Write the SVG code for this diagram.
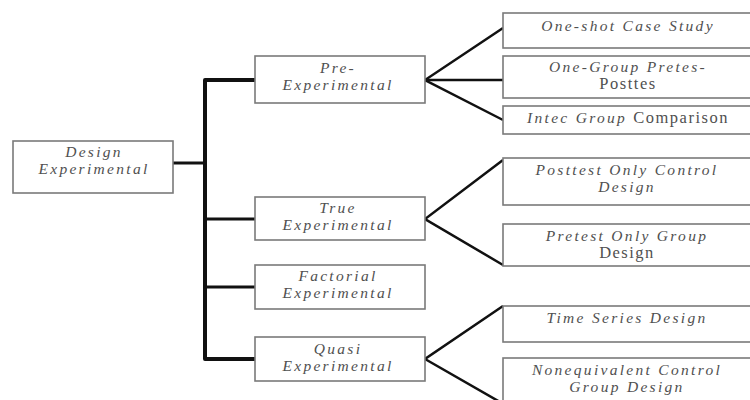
<svg xmlns="http://www.w3.org/2000/svg" width="750" height="400" viewBox="0 0 750 400">
<style>
.box{fill:#fff;stroke:#7a7a7a;stroke-width:1.6}
.t{font-family:"Liberation Serif",serif;font-style:italic;font-size:15.5px;fill:#505050;text-anchor:middle;letter-spacing:2.3px}
.n{font-style:normal;font-size:16.5px;letter-spacing:1.5px}
.c{stroke:#111;fill:none;stroke-linecap:butt}
</style>
<rect width="750" height="400" fill="#fff"/>
<g id="connectors">
<polyline class="c" points="255,80 205,80 205,359 255,359" stroke-width="4" stroke-linejoin="round"/>
<line class="c" x1="173" y1="163" x2="205" y2="163" stroke-width="3"/>
<line class="c" x1="205" y1="219" x2="255" y2="219" stroke-width="3"/>
<line class="c" x1="205" y1="287" x2="255" y2="287" stroke-width="3"/>
<polyline class="c" points="503,28 425,80 503,120" stroke-width="2.5"/>
<line class="c" x1="425" y1="80" x2="503" y2="80" stroke-width="2.5"/>
<polyline class="c" points="503,160 425,219 503,265" stroke-width="2.5"/>
<polyline class="c" points="503,306 425,359 500,402" stroke-width="2.5"/>
</g>
<g id="design"><rect class="box" x="13" y="141" width="160" height="52"/><text class="t" x="94" y="157">Design</text><text class="t" x="94" y="174">Experimental</text></g>
<g id="pre"><rect class="box" x="255" y="56" width="170" height="47"/><text class="t" x="338" y="73">Pre-</text><text class="t" x="338" y="90">Experimental</text></g>
<g id="true"><rect class="box" x="255" y="197" width="170" height="43"/><text class="t" x="338" y="213">True</text><text class="t" x="338" y="230">Experimental</text></g>
<g id="factorial"><rect class="box" x="255" y="265" width="170" height="44"/><text class="t" x="338" y="281">Factorial</text><text class="t" x="338" y="298">Experimental</text></g>
<g id="quasi"><rect class="box" x="255" y="337" width="170" height="44"/><text class="t" x="338" y="354">Quasi</text><text class="t" x="338" y="371">Experimental</text></g>
<g id="oneshot"><rect class="box" x="503" y="13" width="252" height="35"/><text class="t" x="628" y="31">One-shot Case Study</text></g>
<g id="onegroup"><rect class="box" x="503" y="56" width="252" height="42"/><text class="t" x="628" y="72">One-Group Pretes-</text><text class="t n" x="628" y="89">Posttes</text></g>
<g id="intec"><rect class="box" x="503" y="106" width="252" height="28"/><text class="t" x="628" y="123">Intec Group <tspan class="n">Comparison</tspan></text></g>
<g id="posttest"><rect class="box" x="503" y="158" width="252" height="47"/><text class="t" x="627" y="175">Posttest Only Control</text><text class="t" x="627" y="192">Design</text></g>
<g id="pretest"><rect class="box" x="503" y="224" width="252" height="42"/><text class="t" x="627" y="241">Pretest Only Group</text><text class="t n" x="627" y="258">Design</text></g>
<g id="timeseries"><rect class="box" x="503" y="306" width="252" height="36"/><text class="t" x="627" y="323">Time Series Design</text></g>
<g id="noneq"><rect class="box" x="503" y="358" width="252" height="46"/><text class="t" x="627" y="375">Nonequivalent Control</text><text class="t" x="627" y="392">Group Design</text></g>
</svg>
